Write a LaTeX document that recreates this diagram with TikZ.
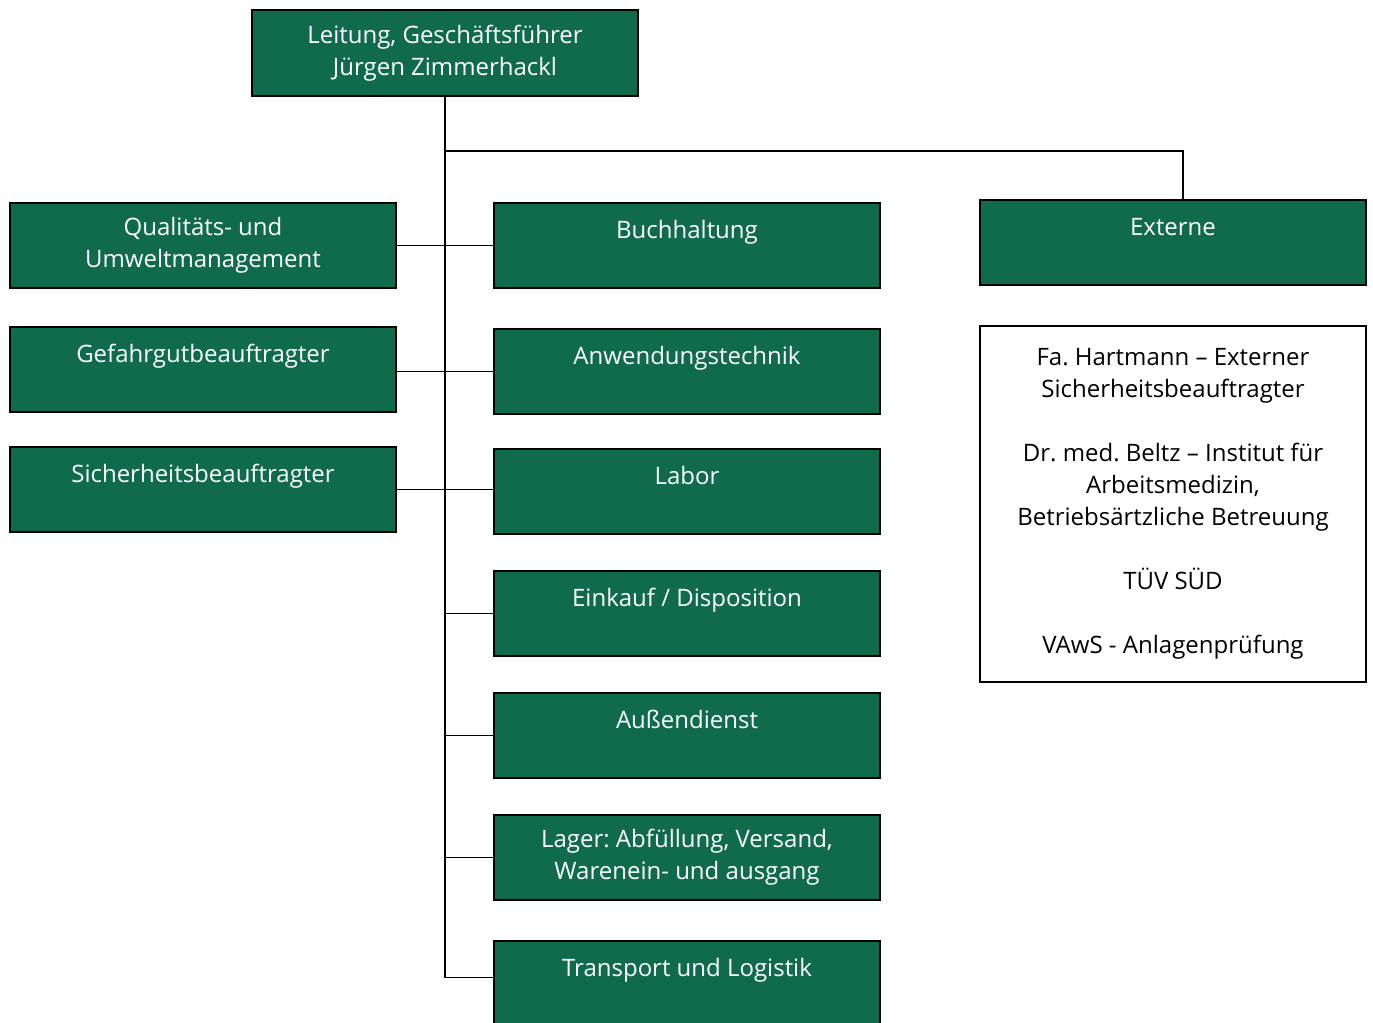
\documentclass[tikz,border=0pt]{standalone}
\usepackage{fontspec}
\setmainfont{Open Sans}
\definecolor{unitgreen}{RGB}{15,107,76}
\frenchspacing

\begin{document}
\begin{tikzpicture}[x=0.5pt,y=-0.5pt,
    unit/.style={draw=black, line width=1pt, fill=unitgreen, text=white,
      minimum width=193pt, minimum height=42.5pt, inner sep=0pt,
      anchor=north west, align=center, font=\fontsize{12}{16}\selectfont},
    ext/.style={unit, fill=white, text=black, minimum height=178pt},
    link/.style={line width=0.7pt}]
            \clip (0,0) rectangle (1373,1023);

            \node[unit, minimum height=43pt] (Lead) at (251,9) {Leitung, Geschäftsführer\\Jürgen Zimmerhackl};

            \node[unit] (Qm) at (9,202) {Qualitäts- und\\Umweltmanagement};
            \node[unit] (Gb) at (9,326) {Gefahrgutbeauftragter\\~};
            \node[unit] (Sb) at (9,446) {Sicherheitsbeauftragter\\~};

            \node[unit] (Bh) at (493,202) {Buchhaltung\\~};
            \node[unit] (At) at (493,328) {Anwendungstechnik\\~};
            \node[unit] (Lab) at (493,448) {Labor\\~};
            \node[unit] (Ek) at (493,570) {Einkauf / Disposition\\~};
            \node[unit] (Ad) at (493,692) {Außendienst\\~};
            \node[unit] (Lg) at (493,814) {Lager: Abfüllung, Versand,\\Warenein- und ausgang};
            \node[unit] (Tl) at (493,940) {Transport und Logistik\\~};

            \node[unit] (Ext) at (979,199) {Externe\\~};
            \node[ext] (ExtList) at (979,325) {Fa. Hartmann – Externer\\Sicherheitsbeauftragter\\[16pt]Dr. med. Beltz – Institut für\\Arbeitsmedizin,\\Betriebsärtzliche Betreuung\\[16pt]TÜV SÜD\\[16pt]VAwS - Anlagenprüfung};

            \coordinate (ExtJoin) at (1183,151);

            \draw[link] (Lead.south) |- ([yshift=3pt]Tl.west);
            \draw[link] (Lead.south |- ExtJoin) -| (ExtJoin |- Ext.north);
            \draw[link] (Qm.east) -- (Bh.west);
            \draw[link] (Gb.east |- At.west) -- (At.west);
            \draw[link] (Sb.east) -- (Sb.east -| Lab.west);
            \foreach \n in {Ek,Ad,Lg}
                \draw[link] (Lead.south |- \n.west) -- (\n.west);
        \end{tikzpicture}
\end{document}
